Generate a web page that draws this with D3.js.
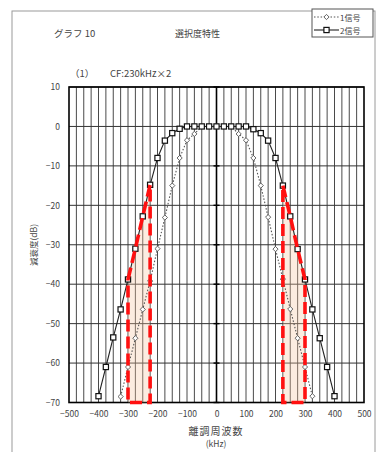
<!DOCTYPE html>
<html>
<head>
<meta charset="utf-8">
<script src="https://cdn.jsdelivr.net/npm/d3@7"></script>
<style>
  html, body { margin: 0; padding: 0; background: #fff; }
  svg { display: block; }
  text { font-family: "Noto Sans CJK JP", "Noto Sans", sans-serif; fill: #444; }
</style>
</head>
<body>
<svg id="chart" width="376" height="452"></svg>
<script>
// Detuning frequency (kHz) of each measured point
const freq2 = [-400, -375, -350, -325, -300, -275, -250, -225, -200, -175, -150, -125, -100, -75, -50, -25,
               0, 25, 50, 75, 100, 125, 150, 175, 200, 225, 250, 275, 300, 325, 350, 375, 400];
// Attenuation (dB) with two signals
const sig2 = [-68.4, -61, -53.5, -46.4, -38.8, -31, -22.8, -14.8, -8.0, -3.6, -1.7, -0.6, 0, 0, 0, 0,
              0, 0, 0, 0, 0, -0.7, -1.7, -3.6, -8.0, -15, -22.8, -31.1, -38.8, -46.4, -53.7, -61, -68.4];

const freq1 = [-325, -300, -275, -250, -225, -200, -175, -150, -125, -100, -75, -50, -25,
               0, 25, 50, 75, 100, 125, 150, 175, 200, 225, 250, 275, 300, 325];
// Attenuation (dB) with one signal
const sig1 = [-68.5, -61, -53.7, -46.4, -39.2, -31, -23.1, -15, -8, -3.5, -1.9, 0, 0,
              0, 0, 0, -1.9, -3.5, -8, -15, -23, -31.1, -38.7, -46.3, -53.7, -61, -68.4];

// Highlighted bands (kHz)
const bandLeft = [-300, -225];
const bandRight = [225, 300];

const xTicks = [-500, -400, -300, -200, -100, 0, 100, 200, 300, 400, 500];
const yTicks = [10, 0, -10, -20, -30, -40, -50, -60, -70];
const xGrid = [-475, -450, -425, -400, -375, -350, -325, -300, -275, -250, -225, -200, -175, -150, -125, -100, -75, -50, -25,
               25, 50, 75, 100, 125, 150, 175, 200, 225, 250, 275, 300, 325, 350, 375, 400, 425, 450, 475];

const svg = d3.select("#chart");
const x = d3.scaleLinear().domain([-500, 500]).range([69, 364]);
const y = d3.scaleLinear().domain([-70, 10]).range([402.5, 87]);

// outer frame
svg.append("rect").attr("x", 12).attr("y", 11).attr("width", 363).attr("height", 445)
  .attr("fill", "none").attr("stroke", "#9a9a9a").attr("stroke-width", 1);

// titles
svg.append("text").attr("x", 54).attr("y", 37).attr("font-size", 9.5).text("グラフ 10");
svg.append("text").attr("x", 175).attr("y", 37).attr("font-size", 9).text("選択度特性");
svg.append("text").attr("x", 70).attr("y", 77).attr("font-size", 9.5).text("（1）");
svg.append("text").attr("x", 110).attr("y", 77).attr("font-size", 9.5).text("CF:230kHz×2");

// grid
const g = svg.append("g");
g.selectAll("line.vg").data(xGrid).join("line")
  .attr("x1", d => x(d)).attr("x2", d => x(d)).attr("y1", y(10)).attr("y2", y(-70))
  .attr("stroke", "#4a4a4a").attr("stroke-width", 1);
g.selectAll("line.hg").data(yTicks).join("line")
  .attr("x1", x(-500)).attr("x2", x(500)).attr("y1", d => y(d)).attr("y2", d => y(d))
  .attr("stroke", "#333").attr("stroke-width", 1);

// zero-frequency axis with cross ticks
g.append("line").attr("x1", x(0)).attr("x2", x(0)).attr("y1", y(10)).attr("y2", y(-70))
  .attr("stroke", "#000").attr("stroke-width", 1.6);
g.selectAll("line.zt").data(yTicks).join("line")
  .attr("x1", x(0) - 3).attr("x2", x(0) + 3).attr("y1", d => y(d)).attr("y2", d => y(d))
  .attr("stroke", "#000").attr("stroke-width", 1.4);

// plot border
g.append("rect").attr("x", x(-500)).attr("y", y(10)).attr("width", x(500) - x(-500)).attr("height", y(-70) - y(10))
  .attr("fill", "none").attr("stroke", "#000").attr("stroke-width", 1.6);

// axes labels
const xAxis = svg.append("g").attr("transform", `translate(0,${y(-70)})`)
  .call(d3.axisBottom(x).tickValues(xTicks).tickSize(0).tickPadding(8));
xAxis.select(".domain").remove();
xAxis.selectAll("text").attr("font-size", 8.5).attr("fill", "#555");

const yAxis = svg.append("g").attr("transform", `translate(${x(-500)},0)`)
  .call(d3.axisLeft(y).tickValues(yTicks).tickSize(0).tickPadding(9));
yAxis.select(".domain").remove();
yAxis.selectAll("text").attr("font-size", 8.5).attr("fill", "#555");

svg.append("text").attr("transform", `translate(37,245) rotate(-90)`).attr("text-anchor", "middle")
  .attr("font-size", 8.5).text("減衰度(dB)");
svg.append("text").attr("x", 216).attr("y", 435).attr("text-anchor", "middle")
  .attr("font-size", 10).attr("letter-spacing", 1).text("離調周波数");
svg.append("text").attr("x", 216).attr("y", 447).attr("text-anchor", "middle")
  .attr("font-size", 8.5).text("(kHz)");

// highlighted bands: top edge follows the two-signal curve
function bandPoly(range) {
  const pts = [];
  freq2.forEach((f, i) => { if (f >= range[0] && f <= range[1]) pts.push([x(f), y(sig2[i])]); });
  pts.push([x(range[1]), y(-70)]);
  pts.push([x(range[0]), y(-70)]);
  return pts;
}
const bands = [bandPoly(bandLeft), bandPoly(bandRight)];
svg.selectAll("polygon.bf").data(bands).join("polygon")
  .attr("points", d => d.map(p => p.join(",")).join(" "))
  .attr("fill", "rgba(245,195,160,0.32)").attr("stroke", "none");

// series
const line = d3.line().x(d => x(d[0])).y(d => y(d[1]));
const d1 = freq1.map((f, i) => [f, sig1[i]]);
const d2 = freq2.map((f, i) => [f, sig2[i]]);

svg.append("path").datum(d1).attr("d", line).attr("fill", "none")
  .attr("stroke", "#555").attr("stroke-width", 1.1).attr("stroke-dasharray", "1.5,1.8");
svg.append("path").datum(d2).attr("d", line).attr("fill", "none")
  .attr("stroke", "#222").attr("stroke-width", 1.1);

svg.selectAll("path.m1").data(d1).join("path")
  .attr("d", "M0,-2.6L2.6,0L0,2.6L-2.6,0Z")
  .attr("transform", d => `translate(${x(d[0])},${y(d[1])})`)
  .attr("fill", "#fff").attr("stroke", "#555").attr("stroke-width", 0.9);
svg.selectAll("rect.m2").data(d2).join("rect")
  .attr("x", d => x(d[0]) - 2.6).attr("y", d => y(d[1]) - 2.6)
  .attr("width", 5.2).attr("height", 5.2)
  .attr("fill", "#fff").attr("stroke", "#111").attr("stroke-width", 1.2);

// red dashed band outlines
svg.selectAll("polygon.bo").data(bands).join("polygon")
  .attr("points", d => d.map(p => p.join(",")).join(" "))
  .attr("fill", "none").attr("stroke", "#ff1010").attr("stroke-width", 3.6)
  .attr("stroke-dasharray", "12,5");

// legend
const lg = svg.append("g");
lg.append("rect").attr("x", 312).attr("y", 9).attr("width", 61).attr("height", 28)
  .attr("fill", "#fff").attr("stroke", "#555").attr("stroke-width", 1);
lg.append("line").attr("x1", 314).attr("x2", 339).attr("y1", 17).attr("y2", 17)
  .attr("stroke", "#555").attr("stroke-width", 1.1).attr("stroke-dasharray", "1.5,1.8");
lg.append("path").attr("d", "M0,-2.6L2.6,0L0,2.6L-2.6,0Z").attr("transform", "translate(326.5,17)")
  .attr("fill", "#fff").attr("stroke", "#555").attr("stroke-width", 0.9);
lg.append("text").attr("x", 340).attr("y", 20.5).attr("font-size", 8).text("1信号");
lg.append("line").attr("x1", 314).attr("x2", 339).attr("y1", 30).attr("y2", 30)
  .attr("stroke", "#222").attr("stroke-width", 1.1);
lg.append("rect").attr("x", 323.9).attr("y", 27.4).attr("width", 5.2).attr("height", 5.2)
  .attr("fill", "#fff").attr("stroke", "#111").attr("stroke-width", 1.2);
lg.append("text").attr("x", 340).attr("y", 33.5).attr("font-size", 8).text("2信号");
</script>
</body>
</html>
